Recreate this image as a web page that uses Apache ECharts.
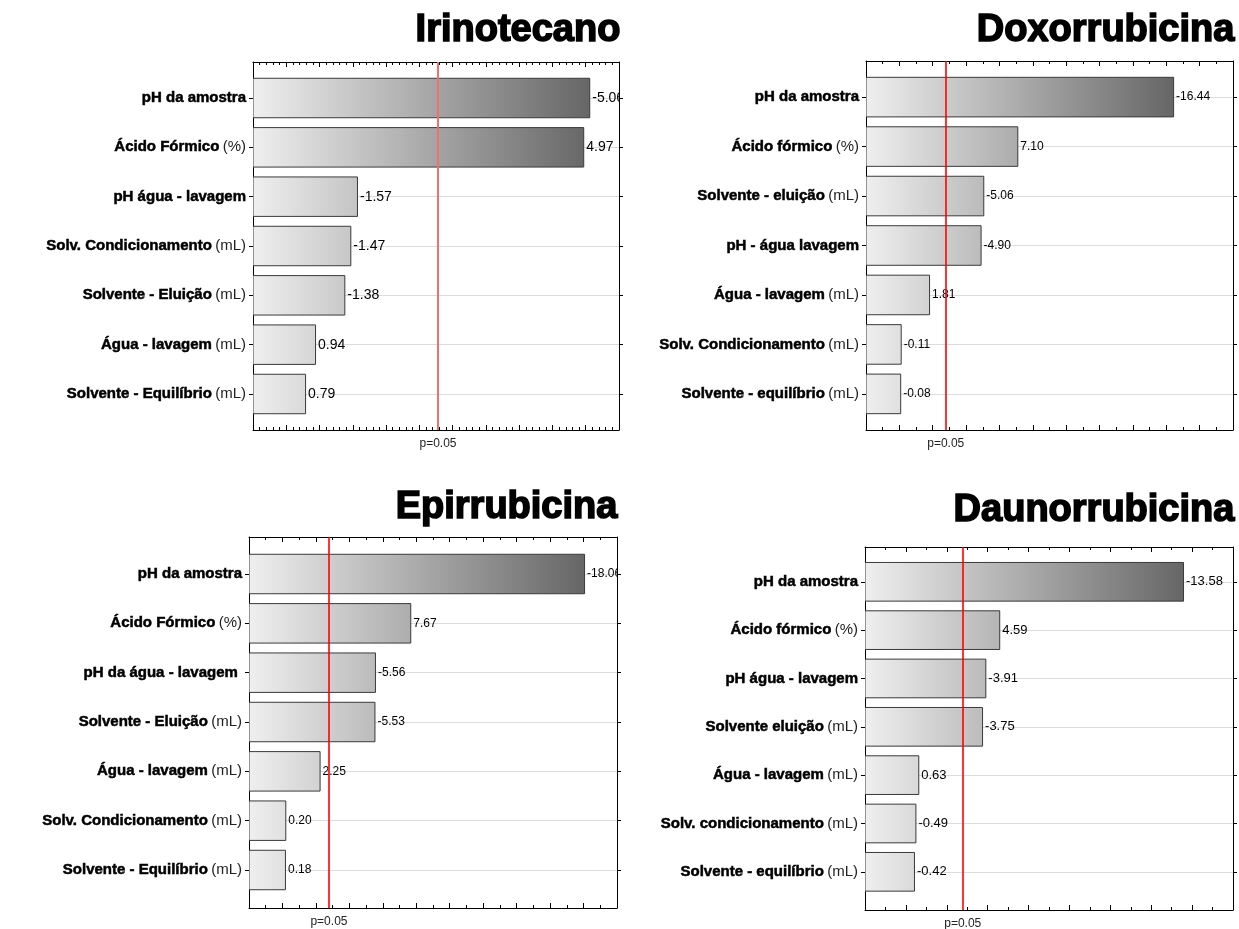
<!DOCTYPE html>
<html>
<head>
<meta charset="utf-8">
<script src="https://cdn.jsdelivr.net/npm/echarts@6/dist/echarts.min.js"></script>
<style>
  html, body { margin: 0; padding: 0; background: #fff; }
  #main { width: 1239px; height: 929px; }
</style>
</head>
<body>
<div id="main"></div>
<script>
// ---- data ----
const irinoNames = ['pH da amostra', 'Ácido Fórmico', 'pH água - lavagem', 'Solv. Condicionamento', 'Solvente - Eluição', 'Água - lavagem', 'Solvente - Equilíbrio'];
const irinoUnits = ['', '(%)', '', '(mL)', '(mL)', '(mL)', '(mL)'];
const irinoValues = [-5.06, 4.97, -1.57, -1.47, -1.38, 0.94, 0.79];

const doxoNames = ['pH da amostra', 'Ácido fórmico', 'Solvente - eluição', 'pH - água lavagem', 'Água - lavagem', 'Solv. Condicionamento', 'Solvente - equilíbrio'];
const doxoUnits = ['', '(%)', '(mL)', '', '(mL)', '(mL)', '(mL)'];
const doxoValues = [-16.44, 7.10, -5.06, -4.90, 1.81, -0.11, -0.08];

const epiNames = ['pH da amostra', 'Ácido Fórmico', 'pH da água - lavagem ', 'Solvente - Eluição', 'Água - lavagem', 'Solv. Condicionamento', 'Solvente - Equilíbrio'];
const epiUnits = ['', '(%)', '', '(mL)', '(mL)', '(mL)', '(mL)'];
const epiValues = [-18.06, 7.67, -5.56, -5.53, 2.25, 0.20, 0.18];

const daunoNames = ['pH da amostra', 'Ácido fórmico', 'pH água - lavagem', 'Solvente eluição', 'Água - lavagem', 'Solv. condicionamento', 'Solvente - equilíbrio'];
const daunoUnits = ['', '(%)', '', '(mL)', '(mL)', '(mL)', '(mL)'];
const daunoValues = [-13.58, 4.59, -3.91, -3.75, 0.63, -0.49, -0.42];

const pCrit = 2.776; // p=0.05

const FONT = '"Liberation Sans", Arial, sans-serif';

const panels = [
  { title: 'Irinotecano', names: irinoNames, units: irinoUnits, values: irinoValues,
    xMin: 0, xMax: 5.5, xStep: 0.5, minor: 5, yPad: [0.73, 0.73],
    grid: { left: 253, right: 620, top: 62, bottom: 499 }, titlePos: { right: 617, top: 12 },
    lineColor: '#f07070', lineWidth: 2, labelSize: 14 },
  { title: 'Doxorrubicina', names: doxoNames, units: doxoUnits, values: doxoValues,
    xMin: -2, xMax: 20, xStep: 2, minor: 2, yPad: [0.73, 0.73],
    grid: { left: 866, right: 6, top: 61, bottom: 499 }, titlePos: { right: 3, top: 12 },
    lineColor: '#ff0000', lineWidth: 1.6, labelSize: 12 },
  { title: 'Epirrubicina', names: epiNames, units: epiUnits, values: epiValues,
    xMin: -2, xMax: 20, xStep: 2, minor: 2, yPad: [0.75, 0.77],
    grid: { left: 249, right: 622, top: 537, bottom: 21 }, titlePos: { right: 620, top: 489 },
    lineColor: '#ff0000', lineWidth: 1.6, labelSize: 12 },
  { title: 'Daunorrubicina', names: daunoNames, units: daunoUnits, values: daunoValues,
    xMin: -2, xMax: 16, xStep: 2, minor: 2, yPad: [0.72, 0.79],
    grid: { left: 865, right: 6, top: 547, bottom: 19 }, titlePos: { right: 3, top: 492 },
    lineColor: '#ff0000', lineWidth: 1.6, labelSize: 13 }
];

const idxs = [0, 1, 2, 3, 4, 5, 6];

var title = [], grid = [], xAxis = [], yAxis = [], series = [];

panels.forEach(function (p, k) {
  title.push({
    text: p.title, right: p.titlePos.right, top: p.titlePos.top, padding: 0,
    textStyle: { fontFamily: FONT, fontSize: 38, fontWeight: 'bold', color: '#000',
      textBorderColor: '#000', textBorderWidth: 1.6 }
  });
  grid.push(Object.assign({ outerBoundsMode: 'none', show: false }, p.grid));

  var xBase = {
    type: 'value', gridIndex: k, min: p.xMin, max: p.xMax, interval: p.xStep,
    axisLine: { show: true, onZero: false, lineStyle: { color: '#000', width: 1 } },
    axisTick: { show: true, inside: true, length: 5, lineStyle: { color: '#000' } },
    minorTick: { show: true, splitNumber: p.minor, length: 3, lineStyle: { color: '#000' } },
    axisLabel: { show: false },
    splitLine: { show: false }
  };
  xAxis.push(Object.assign({ position: 'bottom' }, xBase));
  xAxis.push(Object.assign({ position: 'top' }, xBase));

  var yBase = {
    type: 'value', gridIndex: k, inverse: true,
    min: -p.yPad[0], max: 6 + p.yPad[1],
    axisLine: { show: true, onZero: false, lineStyle: { color: '#000', width: 1 } },
    axisTick: { show: true, customValues: idxs, length: 4, lineStyle: { color: '#000' } },
    minorTick: { show: false }
  };
  yAxis.push(Object.assign({}, yBase, {
    position: 'left',
    splitLine: { show: true, lineStyle: { color: '#dcdcdc', width: 1 } },
    axisLabel: {
      show: true, customValues: idxs, margin: 7,
      formatter: function (v) {
        var i = Math.round(v);
        var s = '{b|' + p.names[i] + '}';
        if (p.units[i]) s += ' {n|' + p.units[i] + '}';
        return s;
      },
      rich: {
        b: { fontFamily: FONT, fontSize: 15, fontWeight: 'bold', color: '#000',
          textBorderColor: '#000', textBorderWidth: 0.5 },
        n: { fontFamily: FONT, fontSize: 15, color: '#222' }
      }
    }
  }));
  yAxis.push(Object.assign({}, yBase, {
    position: 'right', splitLine: { show: false }, axisLabel: { show: false }
  }));

  var maxAbs = Math.max.apply(null, p.values.map(Math.abs));
  var data = p.values.map(function (v, i) { return [Math.abs(v), i, v]; });

  series.push({
    type: 'custom',
    xAxisIndex: k * 2, yAxisIndex: k * 2,
    clip: true,
    data: data,
    encode: { x: 0, y: 1 },
    renderItem: function (params, api) {
      var i = api.value(1);
      var start = api.coord([p.xMin, i]);
      var end = api.coord([api.value(0), i]);
      var far = api.coord([maxAbs, i]);
      var h = api.size([0, 1])[1] * 0.8;
      var fill = new echarts.graphic.LinearGradient(start[0], 0, far[0], 0, [
        { offset: 0, color: '#efefef' },
        { offset: 1, color: '#666666' }
      ], true);
      return {
        type: 'rect',
        shape: { x: start[0], y: end[1] - h / 2, width: end[0] - start[0], height: h },
        style: { fill: fill, stroke: '#3a3a3a', lineWidth: 1 },
        textContent: {
          style: {
            text: api.value(2).toFixed(2), fill: '#000',
            font: p.labelSize + 'px ' + FONT
          }
        },
        textConfig: { position: 'right', distance: 2 }
      };
    },
    z: 3
  });

  // critical t line (p = 0.05)
  series.push({
    type: 'line',
    xAxisIndex: k * 2, yAxisIndex: k * 2,
    data: [],
    itemStyle: { color: p.lineColor },
    lineStyle: { color: p.lineColor },
    markLine: {
      silent: true, symbol: 'none', animation: false,
      lineStyle: { color: p.lineColor, width: p.lineWidth, type: 'solid', opacity: 1 },
      label: { show: true, position: 'end', formatter: 'p=0.05', color: '#222',
        fontFamily: FONT, fontSize: 12, distance: 8 },
      emphasis: { disabled: true },
      data: [{ xAxis: pCrit, lineStyle: { color: p.lineColor } }]
    },
    z: 5
  });
});

var chart = echarts.init(document.getElementById('main'));
chart.setOption({
  animation: false,
  backgroundColor: '#fff',
  title: title,
  grid: grid,
  xAxis: xAxis,
  yAxis: yAxis,
  series: series
});
</script>
</body>
</html>
